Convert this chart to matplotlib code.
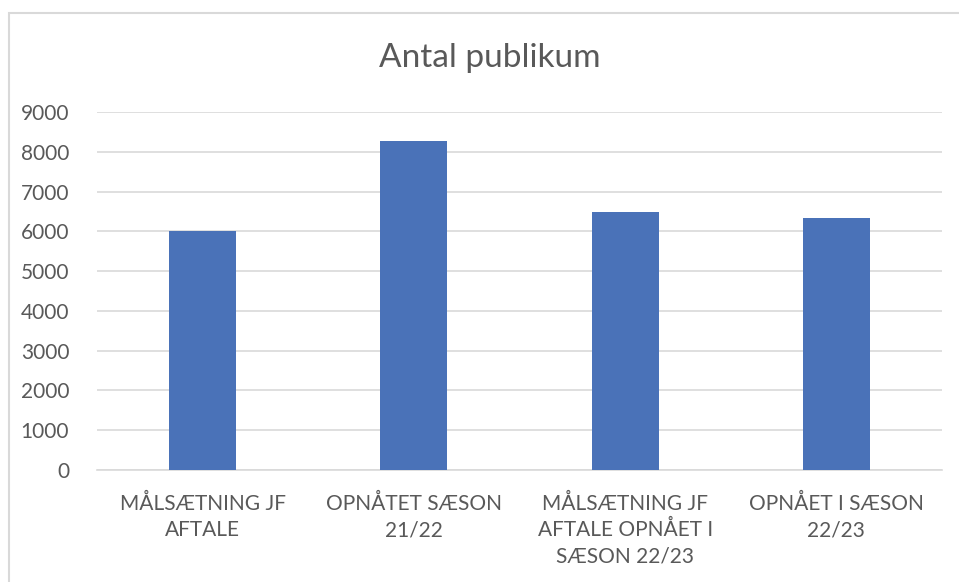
import matplotlib.pyplot as plt
from matplotlib.patches import Rectangle

# Data
categories = ["MÅLSÆTNING JF\nAFTALE", "OPNÅTET SÆSON\n21/22",
              "MÅLSÆTNING JF\nAFTALE OPNÅET I\nSÆSON 22/23", "OPNÅET I SÆSON\n22/23"]
publikum = [6000, 8280, 6490, 6330]
yticks = [0, 1000, 2000, 3000, 4000, 5000, 6000, 7000, 8000, 9000]

text_color = "#595959"
plt.rcParams['font.family'] = ['Lato', 'DejaVu Sans']

fig = plt.figure(figsize=(9.59, 5.82), dpi=100)
ax = fig.add_axes([97 / 959, 1 - 470 / 582, (942 - 97) / 959, (470 - 112) / 582])

# Chart frame like in Excel
fig.patches.append(Rectangle((8.5 / 959, -0.1), 1.2, 1 - 12.5 / 582 + 0.1,
                             transform=fig.transFigure, fill=False,
                             edgecolor="#d9d9d9", linewidth=1.5))

x = range(len(categories))
ax.bar(x, publikum, width=0.317, color="#4a72b8", zorder=3)

ax.set_xlim(-0.5, len(categories) - 0.5)
ax.set_ylim(0, 9000)
ax.set_yticks(yticks)
ax.set_yticklabels([str(v) for v in yticks])
ax.set_xticks(list(x))
ax.set_xticklabels(categories, linespacing=1.4)
ax.grid(axis="y", color="#d9d9d9", linewidth=1.2, zorder=0)

for side in ["top", "right", "left"]:
    ax.spines[side].set_visible(False)
ax.spines["bottom"].set_color("#d9d9d9")
ax.spines["bottom"].set_linewidth(1.2)
ax.tick_params(axis="both", length=0, labelsize=15, labelcolor=text_color)
ax.tick_params(axis="y", pad=20)
ax.tick_params(axis="x", pad=17)

fig.text(490 / 959, 1 - 58 / 582, "Antal publikum", ha="center", va="center",
         fontsize=24, color=text_color)

fig.savefig("out.png", dpi=100)
